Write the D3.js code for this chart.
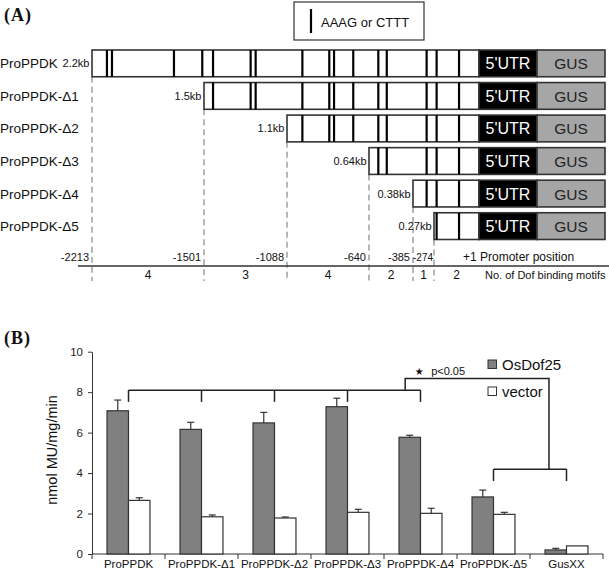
<!DOCTYPE html>
<html>
<head>
<meta charset="utf-8">
<script src="https://cdn.jsdelivr.net/npm/d3@7"></script>
<style>
body { margin: 0; background: #fff; }
svg { font-family: 'Liberation Sans', Arial, sans-serif; fill: #111; }
.panel-label { font-family: 'Liberation Serif', 'Times New Roman', serif; font-weight: bold; font-size: 18px; letter-spacing: 1px; }
</style>
</head>
<body>
<script>
// panel A: promoter deletion constructs
let constructs = ['ProPPDK', 'ProPPDK-Δ1', 'ProPPDK-Δ2', 'ProPPDK-Δ3', 'ProPPDK-Δ4', 'ProPPDK-Δ5'];
let constructStarts = [-2213, -1501, -1088, -640, -385, -274];
let constructSizes = ['2.2kb', '1.5kb', '1.1kb', '0.64kb', '0.38kb', '0.27kb'];
let motifPositions = [-2118, -2086, -1692, -1512, -1456, -1269, -1244, -1004, -857, -831, -726, -586, -537, -313, -258, -121];
let motifCounts = [4, 3, 4, 2, 1, 2];
let tssPosition = 1;

// panel B: GUS activity
let samples = ['ProPPDK', 'ProPPDK-Δ1', 'ProPPDK-Δ2', 'ProPPDK-Δ3', 'ProPPDK-Δ4', 'ProPPDK-Δ5', 'GusXX'];
let series = ['OsDof25', 'vector'];
let osdof25 = [7.08, 6.16, 6.48, 7.28, 5.77, 2.82, 0.2];
let osdof25Err = [0.53, 0.35, 0.52, 0.42, 0.1, 0.34, 0.08];
let vectorVals = [2.65, 1.84, 1.78, 2.06, 2.01, 1.96, 0.4];
let vectorErr = [0.13, 0.09, 0.05, 0.15, 0.25, 0.1, 0];
let yTicks = [0, 2, 4, 6, 8, 10];

let WIDTH = 609;
let HEIGHT = 573;
let STROKE = '#333';

let svg = d3.select('body').append('svg')
	.attr('width', WIDTH)
	.attr('height', HEIGHT);

// ---------------- (A) ----------------
svg.append('text').attr('class', 'panel-label').attr('x', 4).attr('y', 21).text('(A)');

// schematic is not drawn to scale, so map each deletion point to its own spot
let xA = d3.scaleLinear()
	.domain([...constructStarts, tssPosition])
	.range([92, 204, 287, 369, 413, 434, 479]);
let UTR_END = 537;
let GUS_END = 605;
let AXIS_Y = 266;
let DASH_END = 281;

let yA = d3.scaleBand()
	.domain(constructs)
	.range([50, 239.5])
	.paddingInner(0.178);
let rowH = yA.bandwidth();

// legend box
let lg = svg.append('g');
lg.append('rect').attr('x', 294).attr('y', 2).attr('width', 130).attr('height', 38)
	.attr('fill', '#fff').attr('stroke', STROKE).attr('stroke-width', 1.2);
lg.append('line').attr('x1', 311).attr('x2', 311).attr('y1', 9).attr('y2', 33)
	.attr('stroke', '#000').attr('stroke-width', 2.2);
lg.append('text').attr('x', 321).attr('y', 27).attr('font-size', 13).text('AAAG or CTTT');

// dashed guides
svg.append('g').selectAll('line')
	.data(constructs)
	.join('line')
	.attr('x1', (d, i) => xA(constructStarts[i]))
	.attr('x2', (d, i) => xA(constructStarts[i]))
	.attr('y1', d => yA(d) + rowH)
	.attr('y2', DASH_END)
	.attr('stroke', '#888')
	.attr('stroke-width', 1.2)
	.attr('stroke-dasharray', '6,4');

let row = svg.append('g').selectAll('g')
	.data(constructs)
	.join('g')
	.attr('transform', d => `translate(0,${yA(d)})`);

row.append('text')
	.attr('x', 0)
	.attr('y', rowH / 2 + 5)
	.attr('font-size', 13.5)
	.text(d => d);

row.append('text')
	.attr('x', (d, i) => xA(constructStarts[i]) - 2.5)
	.attr('y', rowH / 2 + 4)
	.attr('text-anchor', 'end')
	.attr('font-size', 11)
	.text((d, i) => constructSizes[i]);

row.append('rect')
	.attr('x', (d, i) => xA(constructStarts[i]))
	.attr('width', (d, i) => xA(tssPosition) - xA(constructStarts[i]))
	.attr('height', rowH)
	.attr('fill', '#fff')
	.attr('stroke', STROKE)
	.attr('stroke-width', 1.6);

row.each(function(d, i) {
	let start = constructStarts[i];
	d3.select(this).selectAll('.motif')
		.data(motifPositions.filter(m => m > start))
		.join('line')
		.attr('class', 'motif')
		.attr('x1', m => xA(m))
		.attr('x2', m => xA(m))
		.attr('y1', 0)
		.attr('y2', rowH)
		.attr('stroke', '#000')
		.attr('stroke-width', 2.2);
});

row.append('rect')
	.attr('x', xA(tssPosition))
	.attr('width', UTR_END - xA(tssPosition))
	.attr('height', rowH)
	.attr('fill', '#000')
	.attr('stroke', STROKE)
	.attr('stroke-width', 1.6);

row.append('text')
	.attr('x', (xA(tssPosition) + UTR_END) / 2)
	.attr('y', rowH / 2 + 6)
	.attr('text-anchor', 'middle')
	.attr('font-size', 16)
	.attr('fill', '#fff')
	.text("5'UTR");

row.append('rect')
	.attr('x', UTR_END)
	.attr('width', GUS_END - UTR_END)
	.attr('height', rowH)
	.attr('fill', '#a6a6a6')
	.attr('stroke', STROKE)
	.attr('stroke-width', 1.6);

row.append('text')
	.attr('x', (UTR_END + GUS_END) / 2)
	.attr('y', rowH / 2 + 6)
	.attr('text-anchor', 'middle')
	.attr('font-size', 15.5)
	.attr('fill', '#222')
	.text('GUS');

// position axis
svg.append('line')
	.attr('x1', 78).attr('x2', WIDTH)
	.attr('y1', AXIS_Y).attr('y2', AXIS_Y)
	.attr('stroke', STROKE).attr('stroke-width', 1.6);

let lastStart = constructStarts[constructStarts.length - 1];
svg.append('g').selectAll('text')
	.data(constructStarts)
	.join('text')
	// the last label is squeezed between two guides
	.attr('x', d => xA(d) - (d === lastStart ? 1 : 3))
	.attr('y', AXIS_Y - 5)
	.attr('text-anchor', 'end')
	.attr('font-size', d => d === lastStart ? 10 : 11)
	.text(d => d);

svg.append('text')
	.attr('x', xA(tssPosition) - 16)
	.attr('y', AXIS_Y - 5)
	.attr('font-size', 12)
	.text('+1 Promoter position');

let bounds = [...constructStarts, tssPosition];
svg.append('g').selectAll('text')
	.data(motifCounts)
	.join('text')
	.attr('x', (d, i) => (xA(bounds[i]) + xA(bounds[i + 1])) / 2)
	.attr('y', AXIS_Y + 13)
	.attr('text-anchor', 'middle')
	.attr('font-size', 12)
	.text(d => d);

svg.append('text')
	.attr('x', 485)
	.attr('y', AXIS_Y + 13)
	.attr('font-size', 11)
	.text('No. of Dof binding motifs');

// ---------------- (B) ----------------
svg.append('text').attr('class', 'panel-label').attr('x', 4).attr('y', 344).text('(B)');

let xB = d3.scaleBand()
	.domain(samples)
	.range([92, 603]);
let xSub = d3.scaleBand()
	.domain(series)
	.range([0, xB.bandwidth()])
	.paddingOuter(0.7);
let yB = d3.scaleLinear()
	.domain([0, 10])
	.range([554, 351.7]);
let fills = {OsDof25: '#808080', vector: '#fff'};
let values = {OsDof25: osdof25, vector: vectorVals};
let errors = {OsDof25: osdof25Err, vector: vectorErr};

let yAxis = svg.append('g')
	.attr('transform', `translate(${xB.range()[0]},0)`)
	.call(d3.axisLeft(yB).tickValues(yTicks).tickSize(4).tickSizeOuter(0).tickPadding(5));
yAxis.selectAll('text').attr('font-size', 11.5).attr('font-family', null).attr('fill', '#222');
yAxis.selectAll('path, line').attr('stroke', STROKE);

svg.append('text')
	.attr('transform', `translate(57,450) rotate(-90)`)
	.attr('text-anchor', 'middle')
	.attr('font-size', 14.5)
	.text('nmol MU/mg/min');

// x axis with ticks between groups
let x0 = yB(0);
svg.append('line')
	.attr('x1', xB.range()[0]).attr('x2', xB.range()[1])
	.attr('y1', x0).attr('y2', x0)
	.attr('stroke', STROKE);
svg.append('g').selectAll('line')
	.data([...samples.map(s => xB(s)), xB.range()[1]])
	.join('line')
	.attr('x1', d => d).attr('x2', d => d)
	.attr('y1', x0).attr('y2', x0 + 5)
	.attr('stroke', STROKE);
svg.append('g').selectAll('text')
	.data(samples)
	.join('text')
	.attr('x', d => xB(d) + xB.bandwidth() / 2)
	.attr('y', x0 + 14)
	.attr('text-anchor', 'middle')
	.attr('font-size', 11.5)
	.text(d => d);

// bars + error bars
let bars = [];
samples.forEach((s, i) => {
	series.forEach(k => {
		bars.push({sample: s, key: k, v: values[k][i], e: errors[k][i]});
	});
});

svg.append('g').selectAll('rect')
	.data(bars)
	.join('rect')
	.attr('x', d => xB(d.sample) + xSub(d.key))
	.attr('width', xSub.bandwidth())
	.attr('y', d => yB(d.v))
	.attr('height', d => yB(0) - yB(d.v))
	.attr('fill', d => fills[d.key])
	.attr('stroke', STROKE)
	.attr('stroke-width', 1.2);

let errG = svg.append('g').selectAll('g')
	.data(bars.filter(d => d.e > 0))
	.join('g')
	.attr('transform', d => `translate(${xB(d.sample) + xSub(d.key) + xSub.bandwidth() / 2},0)`);
errG.append('line')
	.attr('y1', d => yB(d.v)).attr('y2', d => yB(d.v + d.e))
	.attr('stroke', STROKE).attr('stroke-width', 1.2);
errG.append('line')
	.attr('x1', -3.5).attr('x2', 3.5)
	.attr('y1', d => yB(d.v + d.e)).attr('y2', d => yB(d.v + d.e))
	.attr('stroke', STROKE).attr('stroke-width', 1.2);

// significance brackets
let center = i => xB.range()[0] + (i + 0.5) * xB.step();
let groupHi = [0, 1, 2, 3, 4];
let groupLo = [5, 6];
let BR_HI = 8.1, BR_LO = 4.19, BR_DROP = 0.58, LINK_TOP = 8.67;
let LINK_FROM = 3.79, LINK_TO = 5.76;

let br = svg.append('g').attr('fill', 'none').attr('stroke', '#222').attr('stroke-width', 1.5);
[[groupHi, BR_HI], [groupLo, BR_LO]].forEach(([grp, lvl]) => {
	br.append('line')
		.attr('x1', center(grp[0])).attr('x2', center(grp[grp.length - 1]))
		.attr('y1', yB(lvl)).attr('y2', yB(lvl));
	br.selectAll(null)
		.data(grp)
		.join('line')
		.attr('x1', d => center(d)).attr('x2', d => center(d))
		.attr('y1', yB(lvl)).attr('y2', yB(lvl - BR_DROP));
});
br.append('path')
	.attr('d', d3.line()([
		[center(LINK_FROM), yB(BR_HI)],
		[center(LINK_FROM), yB(LINK_TOP)],
		[center(LINK_TO), yB(LINK_TOP)],
		[center(LINK_TO), yB(BR_LO)]
	]));

svg.append('text')
	.attr('x', center(LINK_FROM) + 14)
	.attr('y', yB(LINK_TOP) - 4)
	.attr('text-anchor', 'middle')
	.attr('font-size', 10)
	.attr('font-family', 'DejaVu Sans')
	.text('★');
svg.append('text')
	.attr('x', center(LINK_FROM) + 26)
	.attr('y', yB(LINK_TOP) - 4)
	.attr('font-size', 11)
	.text('p<0.05');

// legend
let leg = svg.append('g').selectAll('g')
	.data(series)
	.join('g')
	.attr('transform', (d, i) => `translate(488,${360 + i * 27})`);
leg.append('rect')
	.attr('width', 8.5).attr('height', 8.5)
	.attr('fill', d => fills[d])
	.attr('stroke', STROKE);
leg.append('text')
	.attr('x', 14)
	.attr('y', 9.5)
	.attr('font-size', 15)
	.text(d => d);
</script>
</body>
</html>
